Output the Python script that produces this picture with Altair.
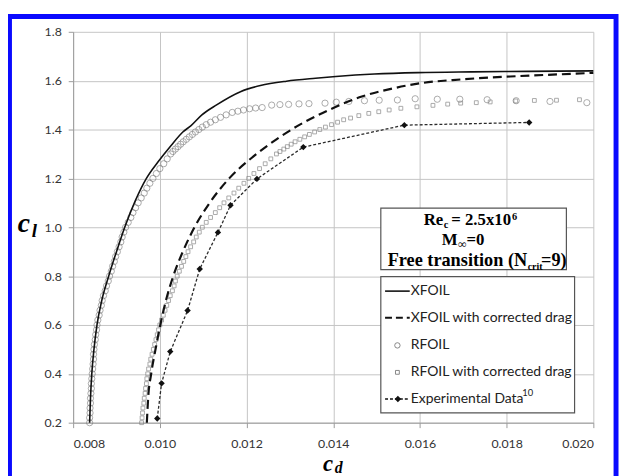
import altair as alt
import pandas as pd

# ---------------- data ----------------
x_ticks = [0.008, 0.010, 0.012, 0.014, 0.016, 0.018, 0.020]
y_ticks = [0.2, 0.4, 0.6, 0.8, 1.0, 1.2, 1.4, 1.6, 1.8]

series_names = ["XFOIL", "XFOIL with corrected drag", "RFOIL",
                "RFOIL with corrected drag", "Experimental Data"]

xfoil_cd = [0.00838, 0.00840, 0.00843, 0.00848, 0.00855, 0.00866, 0.00882, 0.00900,
            0.00919, 0.00943, 0.00969, 0.00996, 0.01026, 0.01053, 0.01072, 0.01097,
            0.01130, 0.01186, 0.01232, 0.01292, 0.01359, 0.01406, 0.01495, 0.01595,
            0.01720, 0.01850, 0.02000]
xfoil_cl = [0.20, 0.30, 0.40, 0.50, 0.60, 0.70, 0.80, 0.90,
            1.00, 1.107, 1.20, 1.268, 1.335, 1.390, 1.416, 1.460,
            1.500, 1.555, 1.580, 1.598, 1.610, 1.617, 1.627, 1.633,
            1.636, 1.638, 1.640]

xfoil_corr_cd = [0.00970, 0.00973, 0.00980, 0.00990, 0.01001, 0.01014, 0.01031, 0.01053,
                 0.01080, 0.01115, 0.01160, 0.01216, 0.01269, 0.01323, 0.01390, 0.01466,
                 0.01542, 0.01603, 0.01694, 0.01808, 0.01922, 0.02000]
xfoil_corr_cl = [0.20, 0.30, 0.40, 0.50, 0.60, 0.70, 0.80, 0.90,
                 1.00, 1.10, 1.20, 1.29, 1.36, 1.42, 1.48, 1.535,
                 1.570, 1.590, 1.605, 1.617, 1.626, 1.632]

rfoil_cl = [0.20, 0.22, 0.24, 0.26, 0.28, 0.30, 0.32, 0.34, 0.36, 0.38,
            0.40, 0.42, 0.44, 0.46, 0.48, 0.50, 0.52, 0.54, 0.56, 0.58,
            0.60, 0.62, 0.64, 0.66, 0.68, 0.70, 0.72, 0.74, 0.76, 0.78,
            0.80, 0.82, 0.84, 0.86, 0.88, 0.90, 0.92, 0.94, 0.96, 0.98,
            1.00, 1.02, 1.04, 1.06, 1.08, 1.10, 1.12, 1.14, 1.16, 1.18,
            1.20, 1.22, 1.24, 1.26, 1.28, 1.30, 1.31, 1.32, 1.33, 1.34,
            1.35, 1.36, 1.37, 1.38, 1.39, 1.40, 1.41, 1.42, 1.43, 1.44,
            1.45, 1.46, 1.47, 1.475, 1.48, 1.485, 1.488, 1.49,
            1.500, 1.502, 1.503, 1.505, 1.506, 1.508, 1.512, 1.515, 1.518,
            1.520, 1.521, 1.526, 1.524, 1.524, 1.522, 1.518, 1.515, 1.510]
rfoil_cd = [0.00838, 0.00838, 0.00839, 0.00839, 0.00840, 0.00840, 0.00841, 0.00842, 0.00842, 0.00843,
            0.00844, 0.00845, 0.00846, 0.00847, 0.00847, 0.00848, 0.00849, 0.00851, 0.00852, 0.00854,
            0.00855, 0.00857, 0.00860, 0.00862, 0.00865, 0.00867, 0.00870, 0.00874, 0.00877, 0.00881,
            0.00884, 0.00888, 0.00891, 0.00895, 0.00898, 0.00902, 0.00906, 0.00910, 0.00913, 0.00917,
            0.00921, 0.00927, 0.00933, 0.00938, 0.00944, 0.00950, 0.00957, 0.00964, 0.00970, 0.00977,
            0.00984, 0.00992, 0.01000, 0.01009, 0.01017, 0.01025, 0.01030, 0.01036, 0.01042, 0.01048,
            0.01054, 0.01061, 0.01068, 0.01075, 0.01082, 0.01090, 0.01098, 0.01107, 0.01117, 0.01128,
            0.01140, 0.01153, 0.01167, 0.01180, 0.01193, 0.01207, 0.01221, 0.01236,
            0.01258, 0.01277, 0.01297, 0.01321, 0.01344, 0.01381, 0.01407, 0.01436, 0.01472,
            0.01506, 0.01548, 0.01589, 0.01640, 0.01692, 0.01755, 0.01822, 0.01900, 0.01985]

rfoil_corr_cl = [0.20, 0.22, 0.24, 0.26, 0.28, 0.30, 0.32, 0.34, 0.36, 0.38,
                 0.40, 0.42, 0.44, 0.46, 0.48, 0.50, 0.52, 0.54, 0.56, 0.58,
                 0.60, 0.62, 0.64, 0.66, 0.68, 0.70, 0.72, 0.74, 0.76, 0.78,
                 0.80, 0.82, 0.84, 0.86, 0.88, 0.90, 0.92, 0.94, 0.96, 0.98,
                 1.00, 1.02, 1.04, 1.06, 1.08, 1.10, 1.12, 1.14, 1.16, 1.18,
                 1.20, 1.22, 1.24, 1.26, 1.28, 1.30, 1.31, 1.32, 1.33, 1.34,
                 1.35, 1.36, 1.37, 1.38, 1.39, 1.40, 1.41, 1.42, 1.43,
                 1.440, 1.447, 1.457, 1.466, 1.473, 1.480, 1.487, 1.493, 1.499,
                 1.504, 1.508, 1.510, 1.513, 1.517, 1.519, 1.520, 1.522]
rfoil_corr_cd = [0.00958, 0.00959, 0.00960, 0.00961, 0.00963, 0.00964, 0.00966, 0.00967, 0.00969, 0.00970,
                 0.00972, 0.00974, 0.00977, 0.00979, 0.00982, 0.00985, 0.00988, 0.00991, 0.00994, 0.00997,
                 0.01000, 0.01004, 0.01008, 0.01012, 0.01016, 0.01020, 0.01024, 0.01029, 0.01033, 0.01036,
                 0.01040, 0.01045, 0.01050, 0.01055, 0.01060, 0.01065, 0.01071, 0.01078, 0.01084, 0.01091,
                 0.01098, 0.01107, 0.01117, 0.01128, 0.01138, 0.01148, 0.01159, 0.01171, 0.01182, 0.01194,
                 0.01205, 0.01217, 0.01230, 0.01243, 0.01256, 0.01269, 0.01277, 0.01286, 0.01294, 0.01303,
                 0.01312, 0.01323, 0.01334, 0.01345, 0.01357, 0.01369, 0.01382, 0.01396, 0.01410,
                 0.01424, 0.01440, 0.01459, 0.01482, 0.01505, 0.01529, 0.01556, 0.01593, 0.01630,
                 0.01664, 0.01694, 0.01730, 0.01762, 0.01821, 0.01864, 0.01915, 0.01968]

exp_cd = [0.00994, 0.01004, 0.01024, 0.01064, 0.01092, 0.01134, 0.01163, 0.01224,
          0.01331, 0.01564, 0.01852]
exp_cl = [0.217, 0.361, 0.491, 0.659, 0.829, 0.979, 1.090, 1.198,
          1.328, 1.418, 1.429]


def frame(cd, cl):
    return pd.DataFrame({"cd": cd, "cl": cl, "i": list(range(len(cd)))})


X = alt.X("cd:Q", scale=alt.Scale(domain=[0.008, 0.020], nice=False, zero=False),
          axis=alt.Axis(values=x_ticks, format=".3f", title=""))
Y = alt.Y("cl:Q", scale=alt.Scale(domain=[0.2, 1.8], nice=False, zero=False),
          axis=alt.Axis(values=y_ticks, format=".1f", title=""))

rfoil = alt.Chart(frame(rfoil_cd, rfoil_cl)).mark_point(
    shape="circle", filled=False, size=40, stroke="#7a7a7a", strokeWidth=0.9
).encode(x=X, y=Y)

rfoil_corr = alt.Chart(frame(rfoil_corr_cd, rfoil_corr_cl)).mark_point(
    shape="square", filled=False, size=15, stroke="#7a7a7a", strokeWidth=0.9
).encode(x=X, y=Y)

xfoil = alt.Chart(frame(xfoil_cd, xfoil_cl)).mark_line(
    color="#111111", strokeWidth=1.6, interpolate="monotone"
).encode(x=X, y=Y, order="i:Q")

xfoil_corr = alt.Chart(frame(xfoil_corr_cd, xfoil_corr_cl)).mark_line(
    color="#111111", strokeWidth=2.2, strokeDash=[9, 5], interpolate="monotone"
).encode(x=X, y=Y, order="i:Q")

exp_line = alt.Chart(frame(exp_cd, exp_cl)).mark_line(
    color="#2a2a2a", strokeWidth=1.3, strokeDash=[3, 2]
).encode(x=X, y=Y, order="i:Q")

exp_pts = alt.Chart(frame(exp_cd, exp_cl)).mark_point(
    shape="diamond", filled=True, size=42, color="#111111", opacity=1
).encode(x=X, y=Y)

# ---------------- decorations (pixel layout) ----------------
one = pd.DataFrame({"k": [0]})


def txt(text, x, y, size, font, weight="normal", style="normal", align="left",
        baseline="alphabetic", color="#000000"):
    return alt.Chart(one).mark_text(
        text=text, font=font, fontSize=size, fontWeight=weight, fontStyle=style,
        align=align, baseline=baseline, color=color
    ).encode(x=alt.value(x), y=alt.value(y))


def box(x1, y1, x2, y2, stroke, width, fill_opacity):
    return alt.Chart(one).mark_rect(
        fill="white", fillOpacity=fill_opacity, stroke=stroke, strokeWidth=width
    ).encode(x=alt.value(x1), x2=alt.value(x2), y=alt.value(y1), y2=alt.value(y2))


def seg(x1, x2, y, width, dash=None):
    kw = dict(color="#111111", strokeWidth=width)
    if dash:
        kw["strokeDash"] = dash
    return alt.Chart(one).mark_rule(**kw).encode(
        x=alt.value(x1), x2=alt.value(x2), y=alt.value(y))


def sym(shape, x, y, size, filled, color):
    return alt.Chart(one).mark_point(
        shape=shape, filled=filled, size=size, color=color, opacity=1, strokeWidth=0.9
    ).encode(x=alt.value(x), y=alt.value(y))


serif = "Liberation Serif"
sans = "Lato"

deco = []
# blue outer frame
deco.append(box(-64.5, -15.5, 550, 520, "#0a0aff", 5, 0))
# annotation box
deco.append(box(311.7, 178.7, 499.7, 241, "#555555", 1.2, 1))
deco += [
    txt("Re", 375, 195.5, 17, serif, "bold", align="right"),
    txt("c", 375.5, 199, 10.5, serif, "bold"),
    txt("= 2.5x10", 383, 195.5, 17, serif, "bold"),
    txt("6", 444.5, 191, 10.5, serif, "bold"),
    txt("M", 373.5, 216, 17, serif, "bold"),
    txt("\u221e", 390, 219.5, 12, serif, "bold"),
    txt("=0", 398.5, 216, 17, serif, "bold"),
    txt("Free transition (N", 460, 237.5, 18.5, serif, "bold", align="right"),
    txt("crit", 460.5, 241, 10, serif, "bold"),
    txt("=9)", 474, 237.5, 18.5, serif, "bold"),
]
# legend box
deco.append(box(311.7, 248, 508, 386, "#555555", 1.2, 1))
rows = [262.7, 289.7, 317.7, 345, 372]
deco += [
    seg(316, 341, rows[0], 1.6),
    seg(316, 341, rows[1], 2.2, [7, 4]),
    sym("circle", 328.5, rows[2], 30, False, "#7a7a7a"),
    sym("square", 328.5, rows[3], 15, False, "#7a7a7a"),
    seg(316, 341, rows[4], 1.3, [3, 2]),
    sym("diamond", 329, rows[4], 42, True, "#111111"),
]
for name, ry in zip(series_names, rows):
    deco.append(txt(name, 342, ry, 14.1, sans, baseline="middle", color="#222222"))
deco.append(txt("10", 455, 369, 9.5, sans, color="#222222"))

# axis titles
deco += [
    txt("c", -56, 203, 28, serif, "bold", "italic"),
    txt("l", -42, 208, 19, serif, "bold", "italic"),
    txt("c", 253, 445, 23, serif, "bold", "italic"),
    txt("d", 265, 447, 16, serif, "bold", "italic"),
]

chart = alt.layer(
    rfoil, rfoil_corr, xfoil, xfoil_corr, exp_line, exp_pts, *deco
).properties(
    width=527, height=396,
    padding={"left": 66, "top": 21, "right": 26, "bottom": 60},
    autosize=alt.AutoSizeParams(type="none"),
    background="white",
).configure_view(
    strokeWidth=0
).configure_axis(
    labelFont=sans, labelFontSize=12.5, labelColor="#333333",
    gridColor="#c4c4c4", gridWidth=1, domainColor="#9a9a9a", tickColor="#9a9a9a",
    tickSize=5,
).configure_axisX(
    labelPadding=10
).configure_axisY(
    labelPadding=7
)

chart.save("out.html", embed_options={"renderer": "svg", "actions": False})
